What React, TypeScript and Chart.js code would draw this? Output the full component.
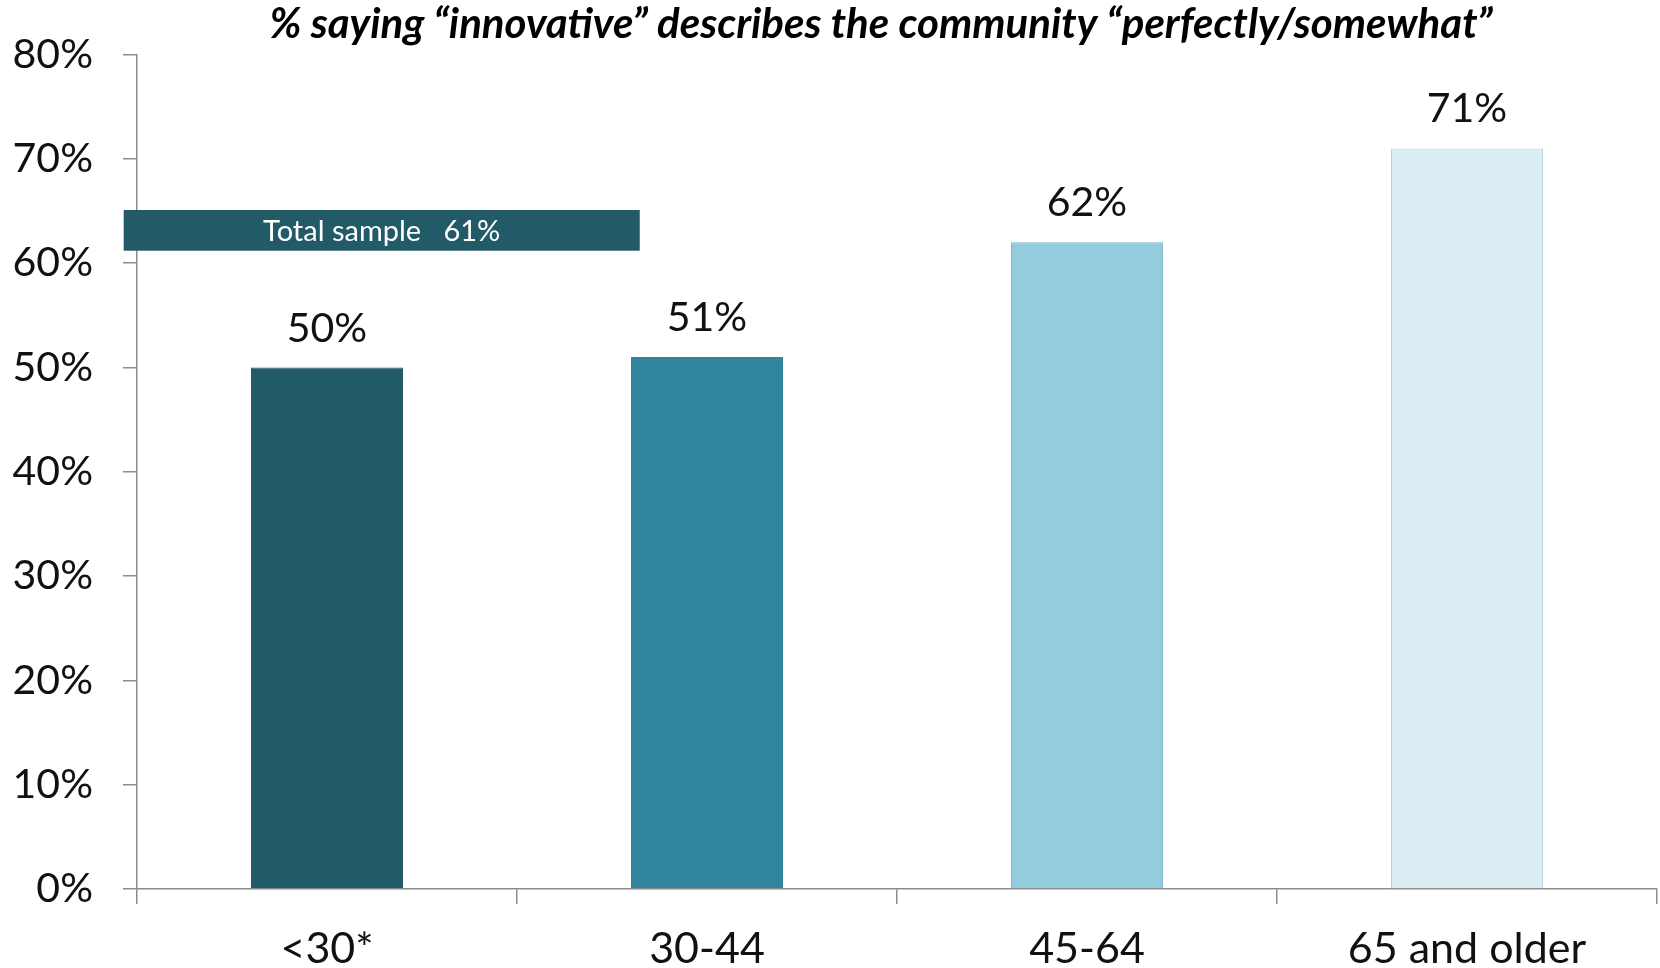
import React, { useEffect, useRef } from "react";
import { Chart, registerables } from "chart.js";

Chart.register(...registerables);

const categories = ["<30*", "30-44", "45-64", "65 and older"];
const values = [50, 51, 62, 71];
const barColors = ["#225A68", "#31869E", "#93CDDD", "#DBEEF3"];
const barBorders = ["#225A68", "#31869E", "#7FB9CA", "#B4D3DC"];
const yTickValues = [0, 10, 20, 30, 40, 50, 60, 70, 80];
const titleText = "% saying \u201Cinnovative\u201D describes the community \u201Cperfectly/somewhat\u201D";
const totalLabel = "Total sample   61%";
const totalValueRange = [61.2, 65.1];
const totalIndexRange = [-0.535, 0.823];

const FONT = "Lato, 'Open Sans', sans-serif";

const overlayPlugin = {
  id: "overlay",
  afterDatasetsDraw(chart: any) {
    const { ctx, chartArea, scales } = chart;
    const xs = scales.x;
    const ys = scales.y;
    ctx.save();
    // total sample box
    const x0 = xs.getPixelForValue(totalIndexRange[0]);
    const x1 = xs.getPixelForValue(totalIndexRange[1]);
    const yTop = ys.getPixelForValue(totalValueRange[1]);
    const yBot = ys.getPixelForValue(totalValueRange[0]);
    ctx.fillStyle = "#225A68";
    ctx.fillRect(x0, yTop, x1 - x0, yBot - yTop);
    ctx.fillStyle = "#FFFFFF";
    ctx.font = `29px ${FONT}`;
    ctx.textAlign = "center";
    ctx.textBaseline = "middle";
    ctx.fillText(totalLabel, (x0 + x1) / 2, (yTop + yBot) / 2 + 1);

    // data labels
    const meta = chart.getDatasetMeta(0);
    ctx.fillStyle = "#111111";
    ctx.font = `41px ${FONT}`;
    ctx.textBaseline = "alphabetic";
    meta.data.forEach((bar: any, i: number) => {
      ctx.fillText(values[i] + "%", bar.x, bar.y - 26);
    });

    // title
    ctx.font = `italic bold 42px ${FONT}`;
    ctx.fillStyle = "#000000";
    ctx.textBaseline = "middle";
    ctx.fillText(titleText, (chartArea.left + chartArea.right) / 2 - 16, 24);
    ctx.restore();
  },
};

export default function App() {
  const ref = useRef<HTMLCanvasElement | null>(null);

  useEffect(() => {
    if (!ref.current) return;
    const chart = new Chart(ref.current, {
      type: "bar",
      data: {
        labels: categories,
        datasets: [
          {
            data: values,
            backgroundColor: barColors,
            borderColor: barBorders,
            borderWidth: 1,
            barPercentage: 0.4,
            categoryPercentage: 1.0,
          },
        ],
      },
      options: {
        responsive: false,
        animation: false,
        layout: { padding: { top: 50, right: 3, left: 0, bottom: 0 } },
        plugins: {
          legend: { display: false },
          tooltip: { enabled: false },
          title: { display: false },
        },
        scales: {
          x: {
            afterFit(scale: any) {
              scale.height = 79;
            },
            grid: {
              drawOnChartArea: false,
              drawTicks: true,
              tickLength: 15,
              color: "#8C8C8C",
              lineWidth: 1.5,
            },
            border: { color: "#8C8C8C", width: 1.5 },
            ticks: {
              color: "#111111",
              font: { family: FONT, size: 43 },
              padding: 19,
            },
          },
          y: {
            min: 0,
            max: 80,
            afterFit(scale: any) {
              scale.width = 137;
            },
            afterBuildTicks(scale: any) {
              scale.ticks = yTickValues.map((v) => ({ value: v }));
            },
            grid: {
              drawOnChartArea: false,
              drawTicks: true,
              tickLength: 14,
              color: "#8C8C8C",
              lineWidth: 1.5,
            },
            border: { color: "#8C8C8C", width: 1.5 },
            ticks: {
              color: "#111111",
              font: { family: FONT, size: 41 },
              padding: 30,
              callback: (v: any) => v + "%",
            },
          },
        },
      },
      plugins: [overlayPlugin],
    });
    return () => chart.destroy();
  }, []);

  return (
    <div style={{ position: "absolute", left: 0, top: 0, width: 1660, height: 968, background: "#fff" }}>
      <canvas ref={ref} width={1660} height={968} style={{ display: "block" }} />
    </div>
  );
}
